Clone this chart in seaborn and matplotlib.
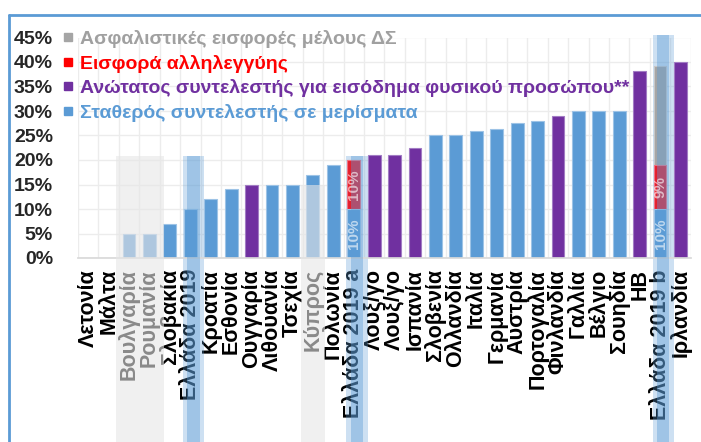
import numpy as np
import pandas as pd
import matplotlib
matplotlib.use("Agg")
import matplotlib.pyplot as plt
import seaborn as sns
from matplotlib.lines import Line2D
from matplotlib.ticker import PercentFormatter

countries = ["Λετονία", "Μάλτα", "Βουλγαρία", "Ρουμανία", "Σλοβακία", "Ελλάδα 2019",
             "Κροατία", "Εσθονία", "Ουγγαρία", "Λιθουανία", "Τσεχία", "Κύπρος",
             "Πολωνία", "Ελλάδα 2019 a", "Λουξ/γο", "Λουξ/γο", "Ισπανία", "Σλοβενία",
             "Ολλανδία", "Ιταλία", "Γερμανία", "Αυστρία", "Πορτογαλία", "Φινλανδία",
             "Γαλλία", "Βέλγιο", "Σουηδία", "ΗΒ", "Ελλάδα 2019 b", "Ιρλανδία"]

# flat dividend rate (blue)
dividend_rate = [0, 0, 5, 5, 7, 10, 12, 14, 0, 15, 15, 17, 19, 10, 0, 0, 0, 25,
                 25, 26, 26.4, 27.5, 28, 0, 30, 30, 30, 0, 10, 0]
# top personal income rate (purple)
top_income_rate = [0, 0, 0, 0, 0, 0, 0, 0, 15, 0, 0, 0, 0, 0, 21, 21, 22.5, 0,
                   0, 0, 0, 0, 0, 28.9, 0, 0, 0, 38.1, 0, 40]
# solidarity levy (red)
solidarity_levy = [0] * 13 + [10] + [0] * 14 + [9, 0]
# board member insurance contributions (grey)
board_insurance = [0] * 28 + [20.2, 0]

legend_labels = ["Ασφαλιστικές εισφορές μέλους ΔΣ", "Εισφορά αλληλεγγύης",
                 "Ανώτατος συντελεστής για εισόδημα φυσικού προσώπου**",
                 "Σταθερός συντελεστής σε μερίσματα"]

BLUE, PURPLE, RED, GREY = "#5b9bd5", "#7030a0", "#e41f2d", "#a5a5a5"

sns.set_theme(style="white")
plt.rcParams['font.family'] = ['Liberation Sans', 'DejaVu Sans']

pos = np.arange(len(countries))
df = pd.DataFrame({"pos": pos, "dividend": dividend_rate, "income": top_income_rate,
                   "solidarity": solidarity_levy, "insurance": board_insurance})
df["cum_red"] = df["dividend"] + df["solidarity"]
df["cum_grey"] = df["cum_red"] + df["insurance"]

fig = plt.figure(figsize=(7.01, 4.42), dpi=100)
ax = fig.add_axes([78 / 701, 1 - 258 / 442, 612.7 / 701, 220.5 / 442])

# stacked segments drawn tallest first
layers = [("insurance", "cum_grey", GREY, "#c8c8c8"),
          ("solidarity", "cum_red", RED, "#f07080"),
          ("dividend", "dividend", BLUE, "#9dc3e6"),
          ("income", "income", PURPLE, "#a27cc4")]
for key, col, color, edge in layers:
    sub = df[df[key] > 0]
    sns.barplot(data=sub, x="pos", y=col, order=list(pos), color=color,
                width=0.63, edgecolor=edge, linewidth=0.8, saturation=1,
                errorbar=None, ax=ax, zorder=2)

# segment value labels on Greek bars
for i in pos:
    if solidarity_levy[i] > 0:
        ax.text(i + 0.03, dividend_rate[i] / 2, f"{dividend_rate[i]:g}%", rotation=90,
                ha="center", va="center", color="white", alpha=0.6,
                fontsize=11, fontweight="bold", zorder=5)
        ax.text(i + 0.03, dividend_rate[i] + solidarity_levy[i] / 2,
                f"{solidarity_levy[i]:g}%", rotation=90, ha="center", va="center",
                color="white", alpha=0.6, fontsize=11, fontweight="bold", zorder=5)

ax.set_xlim(-0.5, len(countries) - 0.5)
ax.set_ylim(0, 45)
ax.set_yticks(np.arange(0, 46, 5))
ax.yaxis.set_major_formatter(PercentFormatter(decimals=0))
ax.set_xticks(pos)
ax.set_xticklabels(countries, rotation=90, fontweight="bold", fontsize=15.5, color="black")
ax.set_xticks(np.arange(-0.5, len(countries), 1), minor=True)
ax.tick_params(axis="y", labelsize=14, pad=18, length=0)
ax.tick_params(axis="x", which="both", length=0, pad=8)
for lab in ax.get_yticklabels():
    lab.set_fontweight("bold")
ax.set_xlabel("")
ax.set_ylabel("")
ax.grid(axis="y", which="major", color="#ececec", lw=1)
ax.grid(axis="x", which="minor", color="#ececec", lw=1)
ax.grid(axis="x", which="major", visible=False)
ax.set_axisbelow(True)
for s in ["left", "right", "top"]:
    ax.spines[s].set_visible(False)
ax.spines["bottom"].set_color("#d9d9d9")

# highlight bands reaching down through the labels
fig_bottom = -ax.get_position().y0 / ax.get_position().height
for x0, x1, top in [(1.36, 3.71, 20.8), (10.42, 11.6, 15.0)]:
    ax.axvspan(x0, x1, ymin=fig_bottom, ymax=top / 45, color="#e6e6e6", alpha=0.6,
               lw=0, clip_on=False, zorder=4)
for i, top in [(5, 20.8), (13, 20.8), (28, 45.5)]:
    ax.axvspan(i - 0.36, i + 0.68, ymin=fig_bottom, ymax=top / 45,
               color=BLUE, alpha=0.3, lw=0, clip_on=False, zorder=1)
    ax.axvspan(i - 0.15, i + 0.45, ymin=fig_bottom, ymax=top / 45,
               color=BLUE, alpha=0.4, lw=0, clip_on=False, zorder=4)

handles = [Line2D([0], [0], marker="s", ls="", color=c, markersize=6)
           for c in [GREY, "#ff0000", PURPLE, BLUE]]
leg = fig.legend(handles, legend_labels, loc="upper left",
                 bbox_to_anchor=(63 / 701, 1 - 30 / 442), frameon=False,
                 prop={"weight": "bold", "size": 14}, handlelength=0.55,
                 handletextpad=0.3, labelspacing=0.34, borderpad=0, borderaxespad=0)
for t, c in zip(leg.get_texts(), ["#a0a0a0", "#ff0000", PURPLE, BLUE]):
    t.set_color(c)

# outer blue frame
fig.add_artist(Line2D([8.5 / 701, 1], [1 - 15 / 442] * 2, transform=fig.transFigure,
                      color=BLUE, lw=2))
fig.add_artist(Line2D([8.5 / 701] * 2, [0, 1 - 15 / 442], transform=fig.transFigure,
                      color=BLUE, lw=2))

fig.savefig("out.png", dpi=100)
